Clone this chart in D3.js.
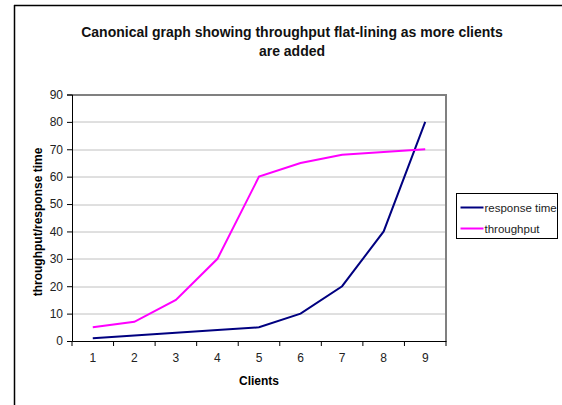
<!DOCTYPE html>
<html>
<head>
<meta charset="utf-8">
<script src="https://cdn.jsdelivr.net/npm/d3@7"></script>
<style>
  body { margin: 0; background: #fff; }
  svg { font-family: "Liberation Sans", Arial, sans-serif; }
</style>
</head>
<body>
<svg id="chart"></svg>
<script>
// Data
const clients = [1, 2, 3, 4, 5, 6, 7, 8, 9];
const responseTime = [1, 2, 3, 4, 5, 10, 20, 40, 80];
const throughput = [5, 7, 15, 30, 60, 65, 68, 69, 70];
const yTicks = [0, 10, 20, 30, 40, 50, 60, 70, 80, 90];
const seriesNames = ["response time", "throughput"];
const seriesColors = ["#000080", "#ff00ff"];

const width = 562, height = 405;
const svg = d3.select("#chart")
    .attr("width", width)
    .attr("height", height);

// outer chart frame (cropped: only left and top visible)
svg.append("line").attr("x1", 14.5).attr("x2", 14.5).attr("y1", 5).attr("y2", height)
    .attr("stroke", "#000").attr("stroke-width", 1.5);
svg.append("line").attr("x1", 14).attr("x2", width).attr("y1", 5.5).attr("y2", 5.5)
    .attr("stroke", "#000").attr("stroke-width", 1.5);

const margins = { top: 94.5, right: 116, bottom: 64, left: 72 };
const graphWidth = width - margins.left - margins.right;
const graphHeight = height - margins.top - margins.bottom;

const g = svg.append("g")
    .attr("transform", `translate(${margins.left}, ${margins.top})`);

const xScale = d3.scaleBand()
    .domain(clients)
    .range([0, graphWidth]);

const yScale = d3.scaleLinear()
    .domain([0, 90])
    .range([graphHeight, 0]);

// gridlines
g.selectAll("line.grid")
    .data(yTicks.slice(1, -1))
    .enter()
    .append("line")
    .attr("class", "grid")
    .attr("x1", 0)
    .attr("x2", graphWidth)
    .attr("y1", d => Math.round(yScale(d)) + 0.5)
    .attr("y2", d => Math.round(yScale(d)) + 0.5)
    .attr("stroke", "#c0c0c0");

// plot area border (top + right)
g.append("path")
    .attr("d", `M0,0.5H${graphWidth}V${graphHeight}`)
    .attr("fill", "none")
    .attr("stroke", "#808080")
    .attr("stroke-width", 2);

// axes
const yAxis = d3.axisLeft(yScale)
    .tickValues(yTicks)
    .tickSize(5)
    .tickPadding(4);
const yAxisGroup = g.append("g").call(yAxis);

const xAxis = d3.axisBottom(xScale).tickSize(0).tickPadding(12);
const xAxisGroup = g.append("g")
    .attr("transform", `translate(0, ${graphHeight})`)
    .call(xAxis);

// x ticks sit between categories
xAxisGroup.selectAll("line.bt")
    .data(d3.range(clients.length + 1))
    .enter()
    .append("line")
    .attr("class", "bt")
    .attr("x1", i => i * xScale.step())
    .attr("x2", i => i * xScale.step())
    .attr("y1", 0)
    .attr("y2", 5)
    .attr("stroke", "#000");

[yAxisGroup, xAxisGroup].forEach(ax => {
    ax.select(".domain").attr("stroke", "#000");
    ax.selectAll(".tick line").attr("stroke", "#000");
    ax.selectAll("text")
        .attr("font-size", 12)
        .attr("fill", "#222")
        .attr("font-family", "Liberation Sans, Arial, sans-serif");
});

// lines
const line = d3.line()
    .x((d, i) => xScale(clients[i]) + xScale.bandwidth() / 2)
    .y(d => yScale(d));

[responseTime, throughput].forEach((vals, k) => {
    g.append("path")
        .datum(vals)
        .attr("d", line)
        .attr("fill", "none")
        .attr("stroke", seriesColors[k])
        .attr("stroke-width", 2);
});

// title
svg.append("text")
    .attr("x", 292)
    .attr("text-anchor", "middle")
    .attr("font-size", 14)
    .attr("font-weight", "bold")
    .attr("fill", "#111")
    .selectAll("tspan")
    .data(["Canonical graph showing throughput flat-lining as more clients", "are added"])
    .enter()
    .append("tspan")
    .attr("x", 292)
    .attr("y", (d, i) => 37 + i * 19)
    .text(d => d);

// axis titles
svg.append("text")
    .attr("transform", "translate(42, 222) rotate(-90)")
    .attr("text-anchor", "middle")
    .attr("font-size", 12)
    .attr("font-weight", "bold")
    .text("throughput/response time");

svg.append("text")
    .attr("x", 259)
    .attr("y", 385)
    .attr("text-anchor", "middle")
    .attr("font-size", 12)
    .attr("font-weight", "bold")
    .text("Clients");

// legend
const legend = svg.append("g").attr("transform", "translate(456.5, 193.5)");
legend.append("rect")
    .attr("width", 101)
    .attr("height", 45)
    .attr("fill", "#fff")
    .attr("stroke", "#000");

seriesNames.forEach((name, i) => {
    const yy = 14 + i * 21;
    legend.append("line")
        .attr("x1", 4).attr("x2", 27)
        .attr("y1", yy).attr("y2", yy)
        .attr("stroke", seriesColors[i])
        .attr("stroke-width", 2);
    legend.append("text")
        .attr("x", 28)
        .attr("y", yy + 4)
        .attr("font-size", 11.5)
        .attr("fill", "#222")
        .text(name);
});
</script>
</body>
</html>
